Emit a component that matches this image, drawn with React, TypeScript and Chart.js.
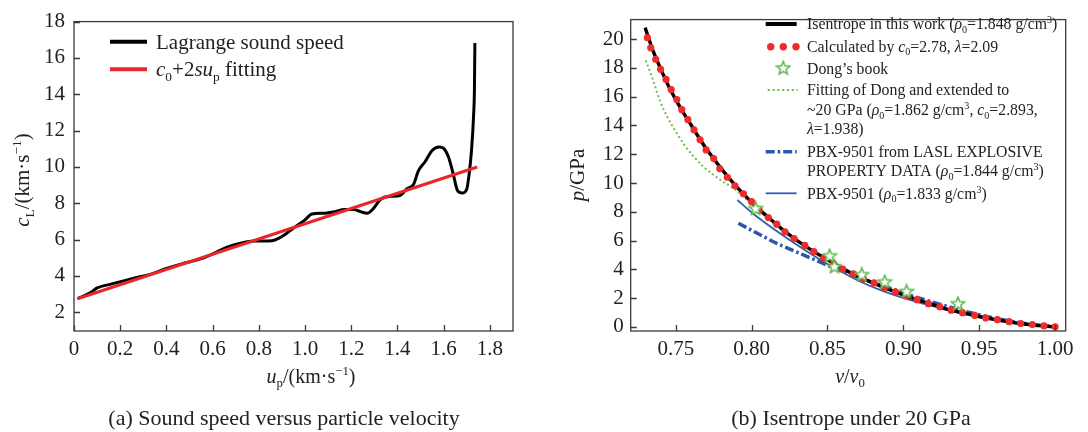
import React, { useEffect, useRef } from 'react';
import { Chart, registerables } from 'chart.js';

Chart.register(...registerables);

const FONT = '"Liberation Serif", "Times New Roman", serif';
const TEXT = '#222';
const AXIS = '#3a3a3a';

// ---------- Panel (a): sound speed vs particle velocity ----------
const upValues = [0.015, 0.07, 0.10, 0.16, 0.26, 0.33, 0.40, 0.47, 0.55, 0.60, 0.66, 0.72, 0.78, 0.84, 0.87, 0.91, 0.95, 1.00, 1.03, 1.08, 1.13, 1.17, 1.21, 1.24, 1.27, 1.29, 1.33, 1.37, 1.41, 1.44, 1.47, 1.49, 1.52, 1.55, 1.58, 1.60, 1.62, 1.64, 1.66, 1.68, 1.70, 1.71, 1.72, 1.73, 1.733, 1.735];
const cLValues = [2.75, 3.07, 3.34, 3.55, 3.88, 4.09, 4.41, 4.68, 4.95, 5.21, 5.57, 5.80, 5.93, 5.93, 5.98, 6.25, 6.64, 7.09, 7.41, 7.45, 7.54, 7.66, 7.66, 7.54, 7.45, 7.63, 8.25, 8.38, 8.43, 8.79, 9.05, 9.77, 10.3, 10.91, 11.1, 11.02, 10.57, 9.68, 8.70, 8.57, 8.79, 9.59, 10.84, 12.98, 14.23, 16.82];
const fitUp = [0.015, 1.745];
const fitCL = [2.75, 10.0];
const aXTicks = [0, 0.2, 0.4, 0.6, 0.8, 1.0, 1.2, 1.4, 1.6, 1.8];
const aXTickLabels = ['0', '0.2', '0.4', '0.6', '0.8', '1.0', '1.2', '1.4', '1.6', '1.8'];
const aYTicks = [2, 4, 6, 8, 10, 12, 14, 16, 18];
const aYTickLabels = ['2', '4', '6', '8', '10', '12', '14', '16', '18'];

// ---------- Panel (b): isentrope under 20 GPa ----------
const isoV = [0.7298, 0.735, 0.740, 0.745, 0.750, 0.755, 0.760, 0.765, 0.770, 0.775, 0.780, 0.785, 0.790, 0.795, 0.800, 0.810, 0.820, 0.830, 0.840, 0.850, 0.860, 0.870, 0.880, 0.890, 0.900, 0.910, 0.920, 0.930, 0.940, 0.950, 0.960, 0.970, 0.980, 0.990, 1.000];
const isoP = [20.8, 19.2, 17.95, 16.8, 15.8, 14.9, 14.05, 13.2, 12.4, 11.7, 11.0, 10.35, 9.75, 9.2, 8.65, 7.7, 6.8, 6.0, 5.3, 4.68, 4.05, 3.5, 3.05, 2.62, 2.22, 1.85, 1.52, 1.2, 0.95, 0.72, 0.52, 0.34, 0.2, 0.08, 0.0];
const calcV = [0.7313, 0.7335, 0.7368, 0.740, 0.7436, 0.747, 0.7507, 0.754, 0.758, 0.762, 0.766, 0.770, 0.775, 0.779, 0.784, 0.789, 0.7946, 0.800, 0.805, 0.811, 0.8166, 0.822, 0.828, 0.835, 0.841, 0.8475, 0.854, 0.860, 0.867, 0.8737, 0.8807, 0.8875, 0.8948, 0.902, 0.909, 0.9165, 0.924, 0.9315, 0.939, 0.947, 0.9543, 0.962, 0.9697, 0.9773, 0.985, 0.9927, 1.000];
const calcP = [20.1, 19.4, 18.6, 17.9, 17.2, 16.5, 15.8, 15.1, 14.4, 13.7, 13.0, 12.3, 11.7, 11.0, 10.4, 9.8, 9.25, 8.7, 8.1, 7.6, 7.14, 6.6, 6.14, 5.66, 5.23, 4.77, 4.39, 4.02, 3.68, 3.34, 3.05, 2.73, 2.43, 2.16, 1.89, 1.61, 1.39, 1.16, 0.98, 0.80, 0.61, 0.5, 0.36, 0.23, 0.16, 0.07, 0.0];
const dongBookV = [0.8026, 0.8514, 0.8546, 0.8726, 0.8877, 0.9021, 0.9360];
const dongBookP = [8.24, 4.95, 4.2, 3.64, 3.14, 2.47, 1.62];
const dongFitV = [0.7302, 0.7331, 0.7364, 0.7397, 0.7441, 0.7496, 0.7551, 0.7616, 0.7682, 0.7748, 0.7814, 0.788, 0.80, 0.82, 0.85, 0.88, 0.91, 0.94, 0.97, 1.0];
const dongFitP = [18.52, 17.73, 16.7, 15.68, 14.66, 13.64, 12.73, 11.86, 11.14, 10.57, 10.07, 9.64, 8.55, 6.7, 4.6, 3.0, 1.82, 0.93, 0.33, 0.0];
const laslV = [0.7913, 0.8056, 0.8166, 0.8275, 0.8385, 0.8495, 0.8605, 0.8715, 0.8825, 0.8935, 0.9044, 0.9154, 0.9264, 0.9374, 0.9484, 0.9593, 0.9703, 0.9813, 0.9922, 1.0];
const laslP = [7.2, 6.4, 5.8, 5.3, 4.8, 4.3, 3.85, 3.4, 3.0, 2.6, 2.2, 1.84, 1.5, 1.17, 0.88, 0.62, 0.4, 0.22, 0.08, 0.0];
const pbxV = [0.7906, 0.800, 0.810, 0.820, 0.832, 0.845, 0.858, 0.8715, 0.885, 0.8977, 0.91, 0.92, 0.93, 0.94, 0.95, 0.96, 0.97, 0.98, 0.99, 1.0];
const pbxP = [8.82, 7.95, 7.15, 6.4, 5.55, 4.68, 3.9, 3.15, 2.55, 2.08, 1.7, 1.42, 1.14, 0.89, 0.66, 0.46, 0.29, 0.15, 0.05, -0.04];
const bXTicks = [0.75, 0.80, 0.85, 0.90, 0.95, 1.00];
const bXTickLabels = ['0.75', '0.80', '0.85', '0.90', '0.95', '1.00'];
const bYTicks = [0, 2, 4, 6, 8, 10, 12, 14, 16, 18, 20];
const bYTickLabels = ['0', '2', '4', '6', '8', '10', '12', '14', '16', '18', '20'];

// ---------- rich text helpers ----------
type Run = { t: string; i?: boolean; sub?: boolean; sup?: boolean };

function runFont(r: Run, size: number) {
  const s = r.sub || r.sup ? size * 0.64 : size;
  return `${r.i ? 'italic ' : ''}${s}px ${FONT}`;
}
function richWidth(ctx: CanvasRenderingContext2D, runs: Run[], size: number) {
  let w = 0;
  for (const r of runs) {
    ctx.font = runFont(r, size);
    w += ctx.measureText(r.t).width;
  }
  return w;
}
function drawRich(ctx: CanvasRenderingContext2D, runs: Run[], x: number, y: number, size: number, align: 'left' | 'center' = 'left') {
  ctx.save();
  ctx.fillStyle = TEXT;
  ctx.textAlign = 'left';
  ctx.textBaseline = 'alphabetic';
  let cx = align === 'center' ? x - richWidth(ctx, runs, size) / 2 : x;
  const base = y + size * 0.33;
  for (const r of runs) {
    ctx.font = runFont(r, size);
    const dy = r.sub ? size * 0.22 : r.sup ? -size * 0.38 : 0;
    ctx.fillText(r.t, cx, base + dy);
    cx += ctx.measureText(r.t).width;
  }
  ctx.restore();
}

function makeStar(): HTMLCanvasElement {
  const c = document.createElement('canvas');
  c.width = 16;
  c.height = 16;
  const g = c.getContext('2d')!;
  g.beginPath();
  for (let k = 0; k < 10; k++) {
    const r = k % 2 === 0 ? 7 : 3.1;
    const ang = -Math.PI / 2 + (k * Math.PI) / 5;
    g.lineTo(8 + r * Math.cos(ang), 8.5 + r * Math.sin(ang));
  }
  g.closePath();
  g.fillStyle = '#ffffff';
  g.fill();
  g.strokeStyle = '#5cb548';
  g.lineWidth = 1.5;
  g.stroke();
  return c;
}

type Decor = {
  xTicks: number[];
  yTicks: number[];
  xTitle: Run[];
  xTitlePos: [number, number];
  yTitle: Run[];
  yTitlePos: [number, number];
  caption: string;
  captionPos: [number, number];
  legend: (ctx: CanvasRenderingContext2D) => void;
};

function decorPlugin(d: Decor) {
  return {
    id: 'decor',
    afterDraw(chart: any) {
      const { ctx, chartArea: a, scales } = chart;
      ctx.save();
      ctx.strokeStyle = AXIS;
      ctx.lineWidth = 1.3;
      ctx.strokeRect(a.left, a.top, a.right - a.left, a.bottom - a.top);
      ctx.beginPath();
      for (const v of d.xTicks) {
        const px = Math.round(scales.x.getPixelForValue(v)) + 0.5;
        ctx.moveTo(px, a.bottom);
        ctx.lineTo(px, a.bottom - 6);
      }
      for (const v of d.yTicks) {
        const py = Math.round(scales.y.getPixelForValue(v)) + 0.5;
        ctx.moveTo(a.left, py);
        ctx.lineTo(a.left + 6, py);
      }
      ctx.stroke();
      ctx.restore();

      drawRich(ctx, d.xTitle, d.xTitlePos[0], d.xTitlePos[1], 20, 'center');
      ctx.save();
      ctx.translate(d.yTitlePos[0], d.yTitlePos[1]);
      ctx.rotate(-Math.PI / 2);
      drawRich(ctx, d.yTitle, 0, 0, 21, 'center');
      ctx.restore();

      drawRich(ctx, [{ t: d.caption }], d.captionPos[0], d.captionPos[1], 22, 'center');
      d.legend(ctx);
    },
  };
}

function pts(xs: number[], ys: number[]) {
  return xs.map((x, k) => ({ x, y: ys[k] }));
}

function scaleOpts(min: number, max: number, ticks: number[], labels: string[], axis: 'x' | 'y', fitSize: number, pad: number) {
  return {
    type: 'linear',
    min,
    max,
    grid: { display: false, drawTicks: false },
    border: { display: false },
    afterBuildTicks: (s: any) => {
      s.ticks = ticks.map((v) => ({ value: v }));
    },
    afterFit: (s: any) => {
      if (axis === 'x') s.height = fitSize;
      else s.width = fitSize;
    },
    ticks: {
      autoSkip: false,
      maxRotation: 0,
      padding: pad,
      color: TEXT,
      font: { family: FONT, size: 21 },
      callback: (_v: any, idx: number) => labels[idx],
    },
  };
}

function hLine(ctx: CanvasRenderingContext2D, x1: number, x2: number, y: number, color: string, w: number, dash: number[] = []) {
  ctx.save();
  ctx.strokeStyle = color;
  ctx.lineWidth = w;
  ctx.setLineDash(dash);
  ctx.beginPath();
  ctx.moveTo(x1, y);
  ctx.lineTo(x2, y);
  ctx.stroke();
  ctx.restore();
}

function buildA(): any {
  const legend = (ctx: CanvasRenderingContext2D) => {
    hLine(ctx, 110, 147, 41.7, '#000', 4);
    drawRich(ctx, [{ t: 'Lagrange sound speed' }], 156, 41.7, 21);
    hLine(ctx, 110, 147, 69.3, '#e8262b', 4);
    drawRich(ctx, [{ t: 'c', i: true }, { t: '0', sub: true }, { t: '+2' }, { t: 'su', i: true }, { t: 'p', sub: true }, { t: ' fitting' }], 156, 69.3, 21);
  };
  return {
    type: 'line',
    data: {
      datasets: [
        { data: pts(fitUp, fitCL), borderColor: '#e8262b', borderWidth: 3.2, pointRadius: 0, tension: 0 },
        { data: pts(upValues, cLValues), borderColor: '#000', borderWidth: 3, pointRadius: 0, cubicInterpolationMode: 'monotone' },
      ],
    },
    options: {
      responsive: false,
      devicePixelRatio: 1,
      animation: false,
      layout: { padding: { left: 0, top: 13, right: 31, bottom: 61 } },
      plugins: { legend: { display: false }, tooltip: { enabled: false } },
      scales: {
        x: scaleOpts(0, 1.9, aXTicks, aXTickLabels, 'x', 40, 6),
        y: scaleOpts(0.97, 18, aYTicks, aYTickLabels, 'y', 74, 9),
      },
    },
    plugins: [
      decorPlugin({
        xTicks: aXTicks,
        yTicks: aYTicks,
        xTitle: [{ t: 'u', i: true }, { t: 'p', sub: true }, { t: '/(km·s' }, { t: '−1', sup: true }, { t: ')' }],
        xTitlePos: [311, 376],
        yTitle: [{ t: 'c', i: true }, { t: 'L', sub: true }, { t: '/(km·s' }, { t: '−1', sup: true }, { t: ')' }],
        yTitlePos: [22, 180],
        caption: '(a) Sound speed versus particle velocity',
        captionPos: [284, 418],
        legend,
      }),
    ],
  };
}

function buildB(): any {
  const star = makeStar();
  const legend = (ctx: CanvasRenderingContext2D) => {
    const lx1 = 221.7, lx2 = 252.7, tx = 263, fs = 15.8;
    hLine(ctx, lx1, lx2, 24, '#000', 4);
    drawRich(ctx, [{ t: 'Isentrope in this work (' }, { t: 'ρ', i: true }, { t: '0', sub: true }, { t: '=1.848 g/cm' }, { t: '3', sup: true }, { t: ')' }], tx, 24, fs);
    ctx.save();
    ctx.fillStyle = '#ef2b2b';
    for (const cx of [226.7, 239.3, 252]) {
      ctx.beginPath();
      ctx.arc(cx, 46.7, 3.7, 0, Math.PI * 2);
      ctx.fill();
    }
    ctx.restore();
    drawRich(ctx, [{ t: 'Calculated by ' }, { t: 'c', i: true }, { t: '0', sub: true }, { t: '=2.78, ' }, { t: 'λ', i: true }, { t: '=2.09' }], tx, 46.7, fs);
    ctx.drawImage(star, 239.3 - 8, 68.3 - 8.5);
    drawRich(ctx, [{ t: 'Dong’s book' }], tx, 68.3, fs);
    hLine(ctx, lx1 + 2, lx2 + 1, 90, '#6cbf4f', 2.2, [2.2, 2.6]);
    drawRich(ctx, [{ t: 'Fitting of Dong and extended to' }], tx, 90, fs);
    drawRich(ctx, [{ t: '~20 GPa (' }, { t: 'ρ', i: true }, { t: '0', sub: true }, { t: '=1.862 g/cm' }, { t: '3', sup: true }, { t: ', ' }, { t: 'c', i: true }, { t: '0', sub: true }, { t: '=2.893,' }], tx, 110, fs);
    drawRich(ctx, [{ t: 'λ', i: true }, { t: '=1.938)' }], tx, 128.3, fs);
    hLine(ctx, lx1, lx2, 151.7, '#2b56aa', 3.5, [9, 3, 2.5, 3]);
    drawRich(ctx, [{ t: 'PBX-9501 from LASL EXPLOSIVE' }], tx, 151.7, fs);
    drawRich(ctx, [{ t: 'PROPERTY DATA (' }, { t: 'ρ', i: true }, { t: '0', sub: true }, { t: '=1.844 g/cm' }, { t: '3', sup: true }, { t: ')' }], tx, 171, fs);
    hLine(ctx, lx1, lx2, 193.3, '#2f5fb5', 1.8);
    drawRich(ctx, [{ t: 'PBX-9501 (' }, { t: 'ρ', i: true }, { t: '0', sub: true }, { t: '=1.833 g/cm' }, { t: '3', sup: true }, { t: ')' }], tx, 193.3, fs);
  };
  return {
    type: 'line',
    data: {
      datasets: [
        { data: pts(dongBookV, dongBookP), showLine: false, pointStyle: star, pointRadius: 8, borderWidth: 0 },
        { data: pts(calcV, calcP), showLine: false, pointStyle: 'circle', pointRadius: 3.6, backgroundColor: '#ef2b2b', borderWidth: 0 },
        { data: pts(isoV, isoP), borderColor: '#000', borderWidth: 3.4, pointRadius: 0, cubicInterpolationMode: 'monotone' },
        { data: pts(dongFitV, dongFitP), borderColor: '#6cbf4f', borderWidth: 2, borderDash: [2, 2.6], pointRadius: 0, cubicInterpolationMode: 'monotone' },
        { data: pts(laslV, laslP), borderColor: '#2b56aa', borderWidth: 3.5, borderDash: [9, 3, 2.5, 3], pointRadius: 0, cubicInterpolationMode: 'monotone' },
        { data: pts(pbxV, pbxP), borderColor: '#2f5fb5', borderWidth: 1.8, pointRadius: 0, cubicInterpolationMode: 'monotone' },
      ],
    },
    options: {
      responsive: false,
      devicePixelRatio: 1,
      animation: false,
      layout: { padding: { left: 0, top: 13.3, right: 22.3, bottom: 61 } },
      plugins: { legend: { display: false }, tooltip: { enabled: false } },
      scales: {
        x: scaleOpts(0.7203, 1.007, bXTicks, bXTickLabels, 'x', 40, 6),
        y: scaleOpts(-0.29, 21.36, bYTicks, bYTickLabels, 'y', 86.7, 7),
      },
    },
    plugins: [
      decorPlugin({
        xTicks: bXTicks,
        yTicks: bYTicks,
        xTitle: [{ t: 'v', i: true }, { t: '/' }, { t: 'v', i: true }, { t: '0', sub: true }],
        xTitlePos: [306, 376],
        yTitle: [{ t: 'p', i: true }, { t: '/GPa' }],
        yTitlePos: [33, 175],
        caption: '(b) Isentrope under 20 GPa',
        captionPos: [307, 418],
        legend,
      }),
    ],
  };
}

export default function App() {
  const aRef = useRef<HTMLCanvasElement>(null);
  const bRef = useRef<HTMLCanvasElement>(null);
  useEffect(() => {
    const ca = new Chart(aRef.current!, buildA());
    const cb = new Chart(bRef.current!, buildB());
    return () => {
      ca.destroy();
      cb.destroy();
    };
  }, []);
  return (
    <div style={{ position: 'absolute', left: 0, top: 0, width: 1088, height: 432, background: '#fff' }}>
      <canvas ref={aRef} width={544} height={432} style={{ position: 'absolute', left: 0, top: 0, width: 544, height: 432 }} />
      <canvas ref={bRef} width={544} height={432} style={{ position: 'absolute', left: 544, top: 0, width: 544, height: 432 }} />
    </div>
  );
}
